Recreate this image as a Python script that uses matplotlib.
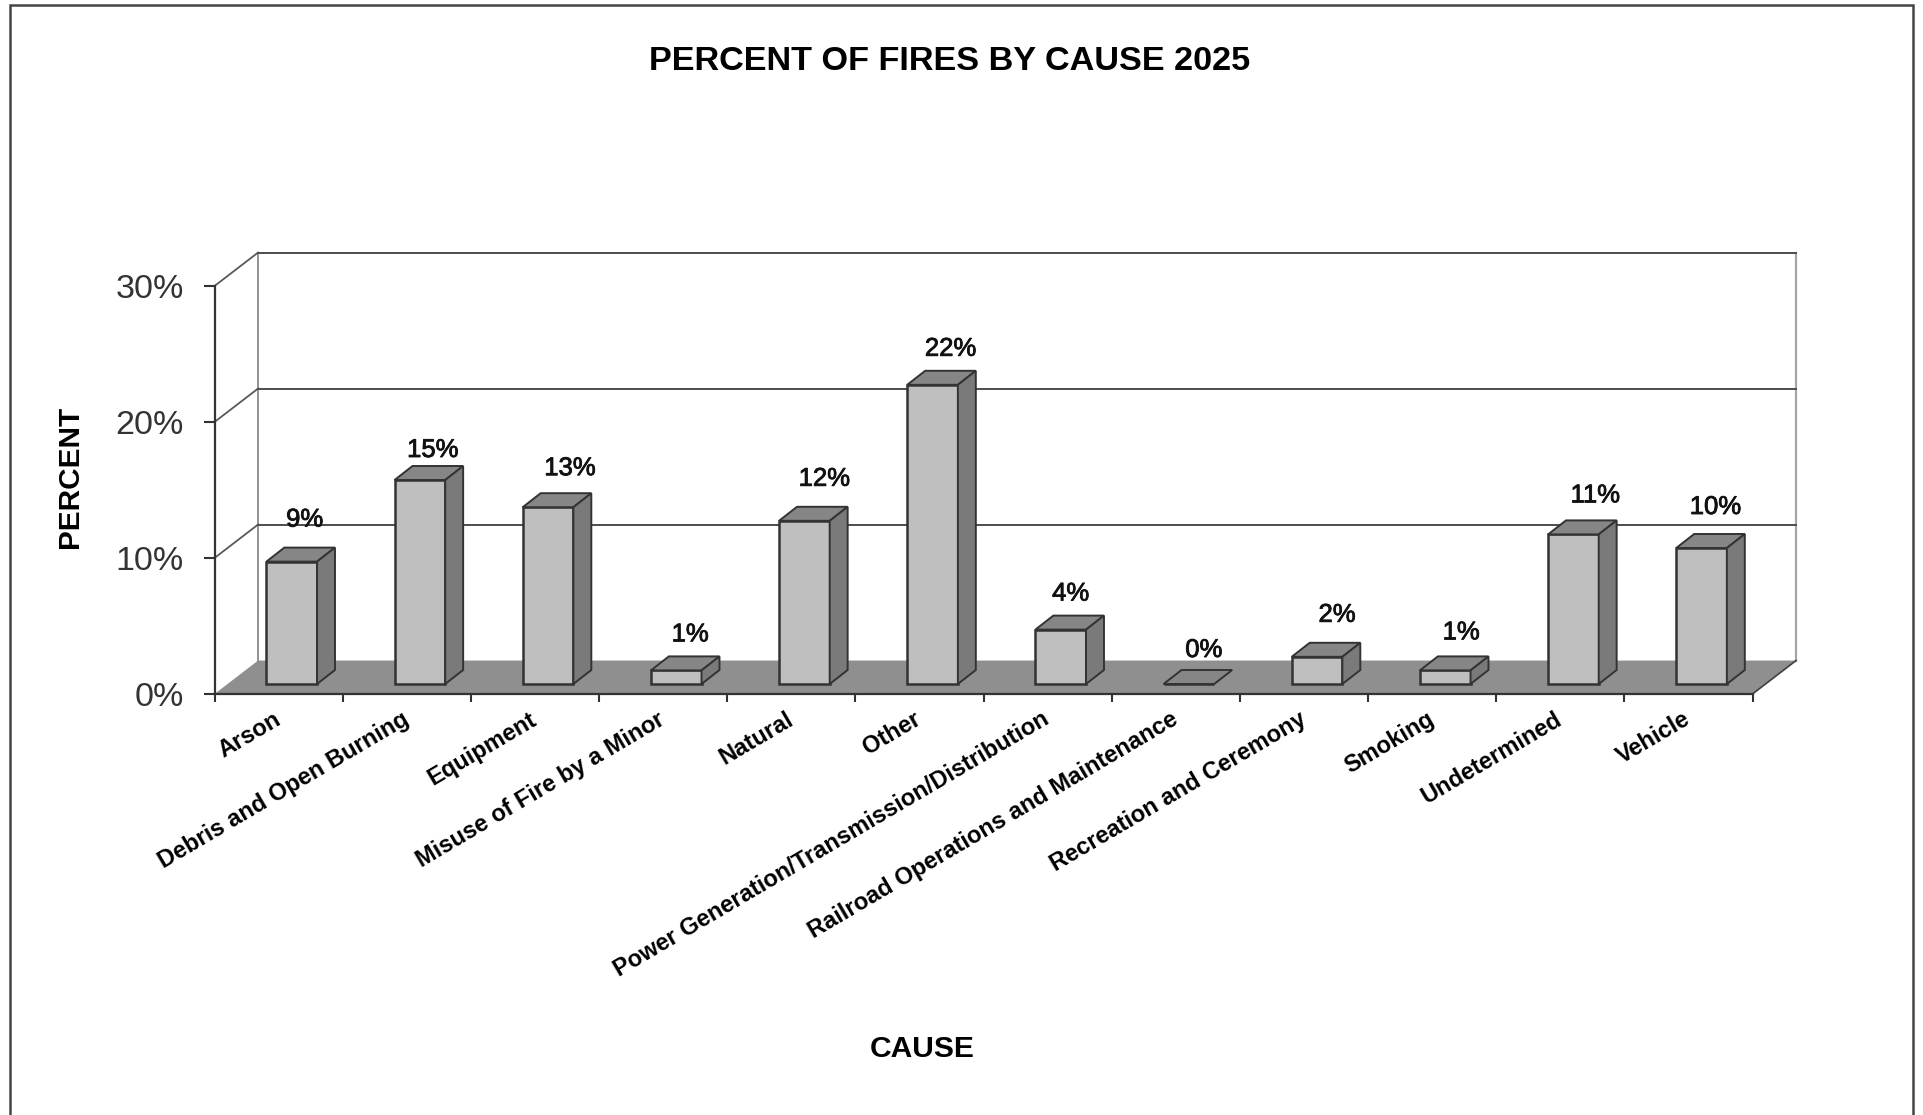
import matplotlib

matplotlib.use("Agg")
import matplotlib.patheffects as pe
import matplotlib.pyplot as plt
import numpy as np
from matplotlib.patches import Polygon, Rectangle

OUTPUT_PATH = "out.png"

CAUSES = [
    "Arson",
    "Debris and Open Burning",
    "Equipment",
    "Misuse of Fire by a Minor",
    "Natural",
    "Other",
    "Power Generation/Transmission/Distribution",
    "Railroad Operations and Maintenance",
    "Recreation and Ceremony",
    "Smoking",
    "Undetermined",
    "Vehicle",
]
PERCENTS = [9, 15, 13, 1, 12, 22, 4, 0, 2, 1, 11, 10]
Y_TICKS = [0, 10, 20, 30]

# Hand placed data labels in the original, offset from the bar's front top (pixels).
LABEL_DX = [13, 13, 22, 14, 20, 18, 10, 15, 20, 16, 22, 14]
LABEL_DY = [42, 30, 39, 36, 42, 36, 36, 34, 42, 38, 39, 41]

FIG_W, FIG_H = 1923, 1115
DPI = 100

# Fake 3D depth, in data units (categories across, percent up).
WALL_DX, WALL_DY = 0.34, 2.46
BAR_X, BAR_W = 0.405, 0.395
BAR_DX, BAR_DY = 0.14, 1.03
BAR_BASE = 0.735

FRONT, TOP, SIDE = "#bfbfbf", "#868686", "#7a7a7a"
FLOOR = "#8f8f8f"
EDGE = "#333333"


def draw_walls(ax):
    n = len(CAUSES)
    ax.add_patch(Polygon(
        [(0, 0), (n, 0), (n + WALL_DX, WALL_DY), (WALL_DX, WALL_DY)],
        facecolor=FLOOR, edgecolor="none", clip_on=False, zorder=1,
    ))
    # Back wall edges.
    ax.plot([WALL_DX, WALL_DX], [WALL_DY, 30 + WALL_DY], color="#808080", lw=1.2, clip_on=False, zorder=1)
    ax.plot([n + WALL_DX, n + WALL_DX], [WALL_DY, 30 + WALL_DY], color="#a6a6a6", lw=1.6, clip_on=False, zorder=1)
    ax.plot([n, n + WALL_DX], [0, WALL_DY], color="#404040", lw=1.2, clip_on=False, zorder=2)
    for level in Y_TICKS[1:]:
        ax.plot([0, WALL_DX], [level, level + WALL_DY], color="#595959", lw=1.3, clip_on=False, zorder=1)
        ax.plot([WALL_DX, n + WALL_DX], [level + WALL_DY, level + WALL_DY],
                color="#4d4d4d", lw=1.4, clip_on=False, zorder=1)


def draw_bars(ax):
    x = np.arange(len(CAUSES)) + BAR_X
    ax.bar(x, PERCENTS, width=BAR_W, bottom=BAR_BASE, align="edge", color=FRONT,
           edgecolor=EDGE, linewidth=1.8, clip_on=False, zorder=3)
    for left, value in zip(x, PERCENTS):
        top = BAR_BASE + value
        right = left + BAR_W
        ax.add_patch(Polygon(
            [(left, top), (right, top), (right + BAR_DX, top + BAR_DY), (left + BAR_DX, top + BAR_DY)],
            facecolor=TOP, edgecolor=EDGE, linewidth=1.4, clip_on=False, zorder=3,
        ))
        if value > 0:
            ax.add_patch(Polygon(
                [(right, BAR_BASE), (right + BAR_DX, BAR_BASE + BAR_DY),
                 (right + BAR_DX, top + BAR_DY), (right, top)],
                facecolor=SIDE, edgecolor=EDGE, linewidth=1.4, clip_on=False, zorder=3,
            ))


def draw_labels(ax):
    x = np.arange(len(CAUSES)) + BAR_X + BAR_W / 2
    for xi, value, dx, dy in zip(x, PERCENTS, LABEL_DX, LABEL_DY):
        ax.annotate(f"{value}%", (xi, BAR_BASE + value), xytext=(dx, dy), textcoords="offset pixels",
                    ha="center", va="center", fontsize=18.5, color="#111111", zorder=5,
                    annotation_clip=False,
                    path_effects=[pe.withStroke(linewidth=0.6, foreground="#111111")])


def main():
    plt.rcParams["font.family"] = ["Liberation Sans", "DejaVu Sans"]
    fig = plt.figure(figsize=(FIG_W / DPI, FIG_H / DPI), dpi=DPI, facecolor="white")
    ax = fig.add_axes([214.5 / FIG_W, 1 - 694 / FIG_H, 1538 / FIG_W, 408 / FIG_H])
    ax.set_xlim(0, len(CAUSES))
    ax.set_ylim(0, 30)
    ax.patch.set_visible(False)

    draw_walls(ax)
    draw_bars(ax)
    draw_labels(ax)

    for side in ("top", "right"):
        ax.spines[side].set_visible(False)
    for side in ("left", "bottom"):
        ax.spines[side].set_color(EDGE)
        ax.spines[side].set_linewidth(1.6)
        ax.spines[side].set_zorder(4)

    ax.set_yticks(Y_TICKS, [f"{t}%" for t in Y_TICKS])
    ax.tick_params(axis="y", length=8, width=1.5, color=EDGE, pad=14,
                   labelsize=24.5, labelcolor="#333333")
    ax.set_xticks(np.arange(len(CAUSES) + 1), [""] * (len(CAUSES) + 1))
    ax.tick_params(axis="x", which="major", length=6, width=1.5, color=EDGE)
    ax.set_xticks(np.arange(len(CAUSES)) + 0.5, CAUSES, minor=True)
    ax.tick_params(axis="x", which="minor", length=0, pad=17, labelsize=17)
    for label in ax.get_xticklabels(minor=True):
        label.set(rotation=30.5, ha="right", va="center", rotation_mode="anchor", fontweight="bold")

    fig.text(950 / FIG_W, 1 - 61 / FIG_H, "PERCENT OF FIRES BY CAUSE 2025", ha="center", va="center",
             fontsize=24.7, fontweight="bold")
    fig.text(70 / FIG_W, 1 - 477 / FIG_H, "PERCENT", rotation=90, ha="center", va="center",
             fontsize=21.4, fontweight="bold")
    fig.text(922.5 / FIG_W, 1 - 1049 / FIG_H, "CAUSE", ha="center", va="center",
             fontsize=21.6, fontweight="bold")

    # Page frame, its bottom edge is cut off by the crop.
    fig.add_artist(Rectangle((10 / FIG_W, -0.02), 1903 / FIG_W, 1.02 - 5 / FIG_H, transform=fig.transFigure,
                             fill=False, edgecolor="#444444", linewidth=1.8))

    fig.savefig(OUTPUT_PATH, dpi=DPI)
    plt.close(fig)


if __name__ == "__main__":
    main()
